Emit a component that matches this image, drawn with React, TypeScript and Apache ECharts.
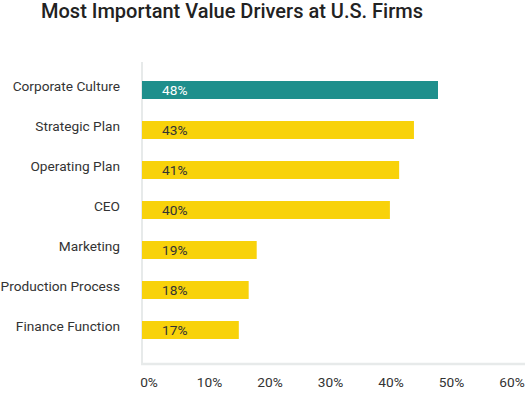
import React, { useEffect, useRef } from "react";
import * as echarts from "echarts";

const categories = [
  "Corporate Culture",
  "Strategic Plan",
  "Operating Plan",
  "CEO",
  "Marketing",
  "Production Process",
  "Finance Function",
];
// bar lengths as drawn (percent)
const barValues = [48, 44.1, 41.7, 40.2, 18.6, 17.3, 15.7];
// labels printed on bars
const barLabels = ["48%", "43%", "41%", "40%", "19%", "18%", "17%"];
const tickValues = [0, 10, 20, 30, 40, 50, 60];

const TEAL = "#1e8f8c";
const YELLOW = "#f8d20a";

export default function App() {
  const ref = useRef<HTMLDivElement>(null);
  useEffect(() => {
    document.body.style.margin = "0";
    if (!ref.current) return;
    const chart = echarts.init(ref.current, undefined, { renderer: "svg" });
    const font = "Roboto";
    chart.setOption({
      animation: false,
      textStyle: { fontFamily: font },
      title: {
        text: "Most Important Value Drivers at U.S. Firms",
        left: 41,
        top: 1,
        padding: 0,
        textStyle: { fontFamily: font, fontSize: 20, fontWeight: 500, color: "#222" },
      },
      graphic: [
        {
          type: "line",
          z: 0,
          shape: { x1: 142, y1: 62, x2: 142, y2: 364 },
          style: { stroke: "#e7eaea", lineWidth: 2 },
        },
        {
          type: "line",
          z: 0,
          shape: { x1: 141, y1: 364, x2: 525, y2: 364 },
          style: { stroke: "#e7eaea", lineWidth: 2.5 },
        },
      ],
      grid: [
        { left: 142, right: 13, top: 70, height: 280, outerBoundsMode: "none", containLabel: false },
        { left: 149, right: 13, top: 70, height: 280, outerBoundsMode: "none", containLabel: false },
      ],
      xAxis: [
        {
          gridIndex: 0,
          type: "value",
          min: 0,
          max: 60,
          axisLine: { show: false },
          axisTick: { show: false },
          axisLabel: { show: false },
          splitLine: { show: false },
        },
        {
          gridIndex: 1,
          type: "value",
          min: tickValues[0],
          max: tickValues[tickValues.length - 1],
          interval: 10,
          axisLine: { show: false },
          axisTick: { show: false },
          splitLine: { show: false },
          axisLabel: {
            margin: 25,
            fontSize: 13.7,
            color: "#333",
            fontFamily: font,
            formatter: (v: number) => v + "%",
          },
        },
      ],
      yAxis: [
        {
          gridIndex: 0,
          type: "category",
          data: categories,
          inverse: true,
          axisLine: { show: false },
          axisTick: { show: false },
          axisLabel: {
            margin: 22,
            fontSize: 13.7,
            color: "#333",
            fontFamily: font,
            verticalAlign: "bottom",
            lineHeight: 8,
          },
        },
        {
          gridIndex: 1,
          type: "category",
          data: categories,
          inverse: true,
          show: false,
        },
      ],
      series: [
        {
          type: "bar",
          xAxisIndex: 0,
          yAxisIndex: 0,
          barWidth: 18,
          z: 2,
          data: barValues.map((v, i) => ({
            value: v,
            itemStyle: { color: i === 0 ? TEAL : YELLOW },
            label: {
              show: true,
              position: "insideLeft",
              distance: 20,
              formatter: barLabels[i],
              fontSize: 13.7,
              fontFamily: font,
              color: i === 0 ? "#ffffff" : "#333",
            },
          })),
        },
      ],
    });
    return () => chart.dispose();
  }, []);
  return <div ref={ref} style={{ width: 525, height: 397 }} />;
}
